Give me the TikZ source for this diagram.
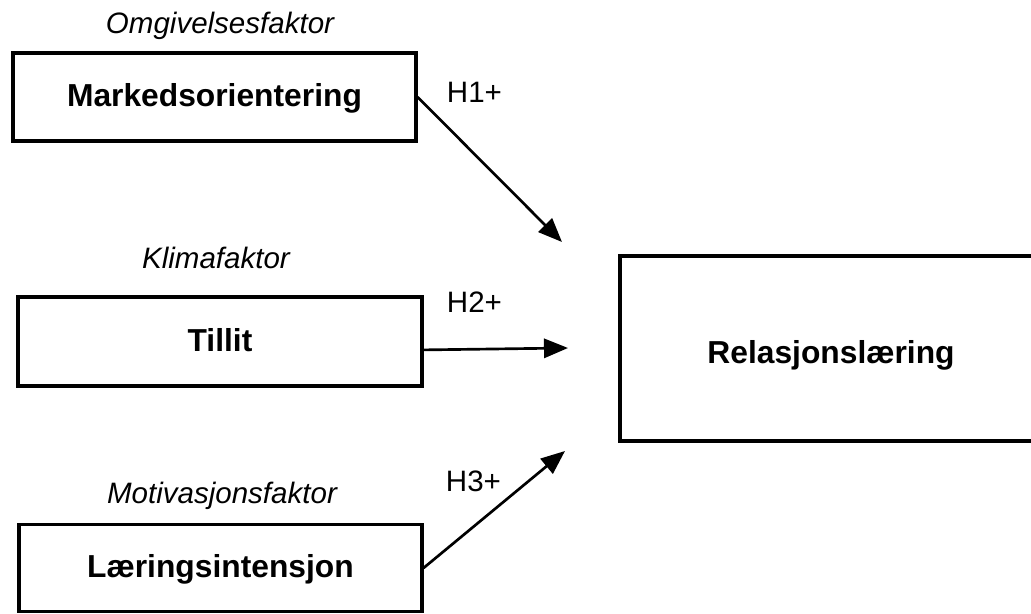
\documentclass[tikz,border=0pt]{standalone}
\usepackage{fontspec}
\setmainfont{Liberation Sans}
\usetikzlibrary{arrows.meta}

\begin{document}
\begin{tikzpicture}[
    boks/.style={draw, line width=2.2pt, minimum width=10.075cm, minimum height=2.2cm,
      font=\fontsize{22.6}{26}\selectfont\bfseries, text height=17.4pt, text depth=3.6pt},
    faktor/.style={anchor=base, font=\fontsize{21}{25}\selectfont\itshape},
    hyp/.style={anchor=base west, font=\fontsize{21}{25}\selectfont},
    pil/.style={-{Triangle[length=0.6cm,width=0.48cm]}, line width=1.9pt}]
  \useasboundingbox (0,0) rectangle (25.775,-15.325);
  % venstre side
  \node [faktor] at (5.5,-0.825) {Omgivelsesfaktor};
  \node [boks] (marked) at (5.3625,-2.425) {Markedsorientering};
  \node [faktor] at (5.4,-6.7) {Klimafaktor};
  \node [boks, minimum width=10.1cm, minimum height=2.225cm] (tillit) at (5.5,-8.5375) {Tillit};
  \node [faktor] at (5.55,-12.575) {Motivasjonsfaktor};
  \node [boks, minimum height=2.175cm] (laering) at (5.5125,-14.2) {Læringsintensjon};
  % hoyre side
  \node [boks, minimum width=10.55cm, minimum height=4.625cm, text height=21pt, text depth=0pt]
    (relasjon) at (20.775,-8.7125) {Relasjonslæring};
  \coordinate (t1) at (14.05,-6.05);
  \coordinate (t2) at (14.2,-8.7);
  \coordinate (t3) at (14.125,-11.275);
  \draw [pil] (marked.east) -- (t1);
  \draw [pil] ([yshift=-0.21cm]tillit.east) -- (t2);
  \draw [pil] (laering.east) -- (t3);
  \node [hyp] at (11.05,-2.55) {H1+};
  \node [hyp] at (11.05,-7.8) {H2+};
  \node [hyp] at (11.025,-12.275) {H3+};
\end{tikzpicture}
\end{document}
